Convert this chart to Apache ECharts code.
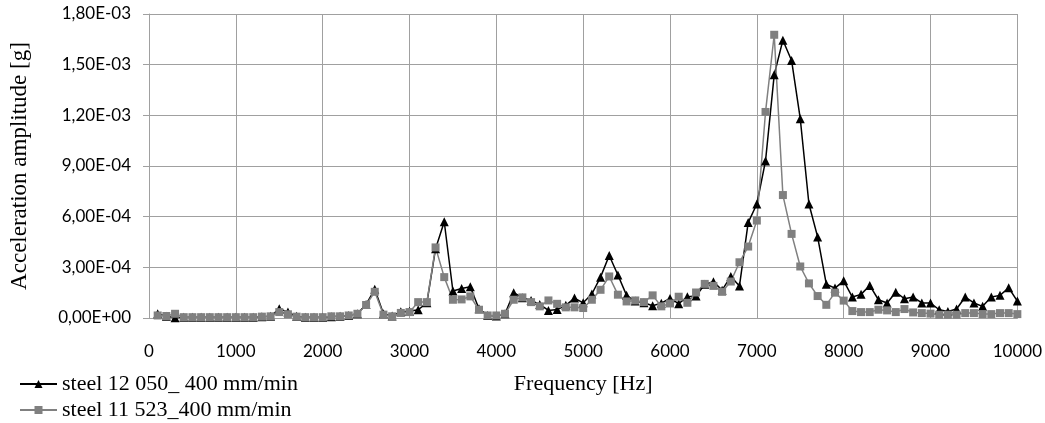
<!DOCTYPE html>
<html><head><meta charset="utf-8">
<script src="https://cdn.jsdelivr.net/npm/echarts@6/dist/echarts.min.js"></script>
<style>html,body{margin:0;padding:0;background:#fff}#c{width:1045px;height:423px}</style>
</head><body><div id="c"></div>
<script>
var freq = [];
for (var f = 100; f <= 10000; f += 100) freq.push(f);

var steel12050 = [
2.5e-5,1.0e-5,0.2e-5,0.5e-5,0.5e-5,0.5e-5,0.5e-5,0.5e-5,0.5e-5,0.5e-5,
0.5e-5,0.5e-5,0.8e-5,1.0e-5,5.5e-5,3.5e-5,1.0e-5,0.5e-5,0.5e-5,0.5e-5,
0.8e-5,1.0e-5,1.5e-5,2.5e-5,8.0e-5,1.7e-4,2.5e-5,1.2e-5,3.7e-5,4.0e-5,
4.9e-5,9.0e-5,4.1e-4,5.7e-4,1.6e-4,1.75e-4,1.85e-4,5.5e-5,1.5e-5,1.2e-5,
2.5e-5,1.5e-4,1.2e-4,1.04e-4,8.0e-5,4.5e-5,5.0e-5,7.5e-5,1.18e-4,9.0e-5,
1.42e-4,2.42e-4,3.7e-4,2.55e-4,1.34e-4,1.0e-4,9.0e-5,7.3e-5,8.8e-5,1.16e-4,
8.5e-5,1.26e-4,1.3e-4,2.0e-4,2.15e-4,1.65e-4,2.46e-4,1.9e-4,5.65e-4,6.75e-4,
9.3e-4,1.44e-3,1.645e-3,1.525e-3,1.18e-3,6.75e-4,4.8e-4,2.0e-4,1.77e-4,2.2e-4,
1.24e-4,1.4e-4,1.93e-4,1.08e-4,8.9e-5,1.53e-4,1.14e-4,1.24e-4,8.9e-5,8.9e-5,
4.9e-5,3.9e-5,5.3e-5,1.24e-4,8.9e-5,6.9e-5,1.24e-4,1.34e-4,1.79e-4,1.0e-4
];

var steel11523 = [
1.5e-5,1.2e-5,2.5e-5,0.5e-5,0.5e-5,0.5e-5,0.5e-5,0.5e-5,0.5e-5,0.5e-5,
0.5e-5,0.5e-5,0.8e-5,1.0e-5,3.5e-5,2.2e-5,0.8e-5,0.5e-5,0.5e-5,0.5e-5,
1.0e-5,1.0e-5,1.5e-5,2.5e-5,7.7e-5,1.55e-4,2.0e-5,1.0e-5,3.0e-5,3.5e-5,
9.4e-5,9.4e-5,4.18e-4,2.42e-4,1.08e-4,1.1e-4,1.28e-4,4.9e-5,1.5e-5,1.5e-5,
2.5e-5,1.08e-4,1.22e-4,9.4e-5,6.9e-5,1.04e-4,8.4e-5,6.3e-5,6.3e-5,5.9e-5,
1.08e-4,1.67e-4,2.46e-4,1.38e-4,9.8e-5,1.04e-4,9.4e-5,1.34e-4,6.9e-5,8.6e-5,
1.26e-4,9.0e-5,1.51e-4,2.02e-4,1.9e-4,1.55e-4,2.16e-4,3.3e-4,4.23e-4,5.77e-4,
1.22e-3,1.677e-3,7.28e-4,4.98e-4,3.05e-4,2.05e-4,1.3e-4,7.8e-5,1.5e-4,1.03e-4,
4.1e-5,3.5e-5,3.5e-5,4.9e-5,4.5e-5,3.5e-5,5.3e-5,3.3e-5,2.9e-5,2.6e-5,
1.9e-5,1.9e-5,1.9e-5,2.9e-5,2.9e-5,2.3e-5,2.3e-5,2.9e-5,2.9e-5,2.3e-5
];

var seriesNames = ['steel 12 050_ 400 mm/min', 'steel 11 523_400 mm/min'];
var xTitle = 'Frequency [Hz]';
var yTitle = 'Acceleration amplitude [g]';

function pairs(vals) { return freq.map(function (f, i) { return [f, vals[i]]; }); }
function fmtY(v) {
  var s = v.toExponential(2);
  var m = s.split('e');
  var exp = parseInt(m[1], 10);
  var sign = exp < 0 ? '-' : '+';
  var e = Math.abs(exp);
  return m[0].replace('.', ',') + 'E' + sign + (e < 10 ? '0' : '') + e;
}

var chart = echarts.init(document.getElementById('c'), null, {renderer: 'canvas'});
var serif = 'Liberation Serif';
var sans = 'Lato';
function legendAt(top, name) {
  return {
    orient: 'vertical', left: 14, top: top, itemWidth: 37, itemHeight: 10,
    textStyle: {color: '#000', fontFamily: serif, fontSize: 22},
    data: [name]
  };
}
chart.setOption({
  animation: false,
  backgroundColor: '#fff',
  grid: {left: 147, right: 24, top: 14, bottom: 105, containLabel: false},
  xAxis: {
    type: 'value', min: 0, max: 10000, interval: 1000,
    axisLine: {show: true, lineStyle: {color: '#a0a0a0', width: 1}},
    axisTick: {show: false},
    splitLine: {show: true, lineStyle: {color: '#a0a0a0', width: 1}},
    axisLabel: {color: '#000', fontFamily: sans, fontSize: 17, margin: 25,
      formatter: function (v) { return String(v); }},
    name: xTitle, nameLocation: 'middle', nameGap: 55,
    nameTextStyle: {color: '#000', fontFamily: serif, fontSize: 22}
  },
  yAxis: {
    type: 'value', min: 0, max: 0.0018, interval: 0.0003,
    axisLine: {show: true, lineStyle: {color: '#a0a0a0', width: 1}},
    axisTick: {show: true, inside: false, length: 6, lineStyle: {color: '#a0a0a0'}},
    splitLine: {show: true, lineStyle: {color: '#a0a0a0', width: 1}},
    axisLabel: {color: '#000', fontFamily: sans, fontSize: 17, margin: 18, formatter: fmtY},
    name: yTitle, nameLocation: 'middle', nameGap: 118, nameRotate: 90,
    nameTextStyle: {color: '#000', fontFamily: serif, fontSize: 23}
  },
  legend: [legendAt(368, seriesNames[0]), legendAt(394, seriesNames[1])],
  series: [
    {
      name: seriesNames[0], type: 'line', data: pairs(steel12050),
      symbol: 'triangle', symbolSize: 9,
      lineStyle: {color: '#000', width: 1.5},
      itemStyle: {color: '#000'}
    },
    {
      name: seriesNames[1], type: 'line', data: pairs(steel11523),
      symbol: 'rect', symbolSize: 8,
      lineStyle: {color: '#808080', width: 1.5},
      itemStyle: {color: '#808080'}
    }
  ]
});
</script></body></html>
